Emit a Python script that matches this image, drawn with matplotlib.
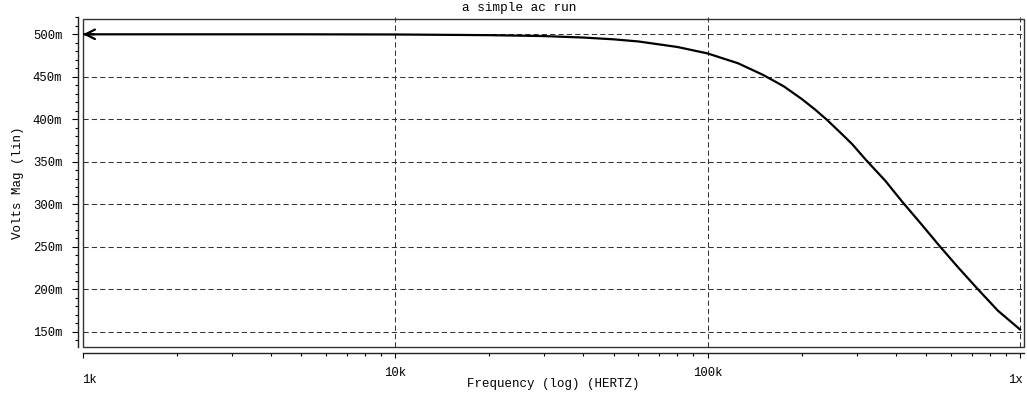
#!/usr/bin/env python3

"""Recreate the 'a simple ac run' magnitude plot (PSpice style)."""

import numpy as np
import matplotlib
matplotlib.use('Agg')
import matplotlib.pyplot as plt
import matplotlib.patches as mpatches
from matplotlib.ticker import FixedLocator, NullFormatter
from matplotlib.transforms import ScaledTranslation

# DATA
freq_hz = [1e3, 5e3, 10e3, 20e3, 30e3, 40e3, 50e3, 60e3, 80e3, 100e3, 125e3,
           150e3, 175e3, 200e3, 220e3, 240e3, 265e3, 290e3, 320e3, 370e3,
           420e3, 480e3, 550e3, 630e3, 730e3, 850e3, 1e6]
volts_mag = [0.500, 0.500, 0.4998, 0.4990, 0.4979, 0.4962, 0.4941, 0.4916,
             0.4851, 0.4775, 0.4660, 0.4525, 0.4390, 0.4240, 0.4120, 0.4000,
             0.3850, 0.3710, 0.3530, 0.3280, 0.3030, 0.2780, 0.2520, 0.2270,
             0.2010, 0.1750, 0.1530]

x_ticks = [1e3, 1e4, 1e5, 1e6]
x_tick_labels = ['1k', '10k', '100k', '1x']
y_ticks = [0.150, 0.200, 0.250, 0.300, 0.350, 0.400, 0.450, 0.500]
y_tick_labels = ['150m', '200m', '250m', '300m', '350m', '400m', '450m', '500m']
y_minor = [v / 1000 for v in range(140, 521, 10)]

title = 'a simple ac run'
xlabel = 'Frequency (log) (HERTZ)'
ylabel = 'Volts Mag (lin)'

font = 'Liberation Mono'
W, H = 1027, 394
dpi = 100

fig = plt.figure(figsize=(W / dpi, H / dpi), dpi=dpi)
# axes box in pixels: left 83, right 1024, top 17.3, bottom 347.3
ax = fig.add_axes([83 / W, (H - 347.3) / H, (1024 - 83) / W, (347.3 - 17.3) / H])

x_max = 10 ** (6 + 4 / 312.3)
ax.set_xscale('log')
ax.set_xlim(1e3, x_max)
ax.set_ylim(0.132, 0.520)

# grid
grid_kw = dict(color='#333333', linewidth=0.75, dashes=(5, 3), zorder=1)
for yv in y_ticks:
    ax.axhline(yv, **grid_kw)
for xv in x_ticks[1:]:
    ax.axvline(xv, **grid_kw)

# curve
ax.plot(freq_hz, volts_mag, color='black', linewidth=1.6, zorder=3,
        solid_joinstyle='round')
ax.annotate('', xy=(freq_hz[0], volts_mag[0]), xytext=(freq_hz[0] * 1.08, volts_mag[0]),
            arrowprops=dict(arrowstyle='->', color='black', lw=1.6,
                            mutation_scale=17, shrinkA=0, shrinkB=0), zorder=4)

# plot frame (separate from the axis lines)
frame = mpatches.Rectangle((1e3, 0.132), x_max - 1e3, 0.5176 - 0.132,
                           transform=ax.transData, fill=False,
                           edgecolor='#333333', linewidth=1.0, clip_on=False, zorder=2)
ax.add_patch(frame)

# axis lines offset from frame
for side in ['top', 'right']:
    ax.spines[side].set_visible(False)
ax.spines['left'].set_position(('outward', 3.6))
ax.spines['bottom'].set_position(('outward', 4.3))
for side in ['left', 'bottom']:
    ax.spines[side].set_linewidth(1.0)
    ax.spines[side].set_color('#222222')

ax.yaxis.set_major_locator(FixedLocator(y_ticks))
ax.yaxis.set_minor_locator(FixedLocator(y_minor))
ax.yaxis.set_minor_formatter(NullFormatter())
ax.set_yticklabels(y_tick_labels)
ax.tick_params(axis='y', which='major', direction='out', length=4.3, width=0.8,
               pad=7, labelsize=8.8)
ax.tick_params(axis='y', which='minor', direction='out', length=2.2, width=0.8)

ax.set_xticks(x_ticks)
ax.set_xticklabels(x_tick_labels)
ax.xaxis.set_minor_formatter(NullFormatter())
ax.tick_params(axis='x', which='major', direction='out', length=3.6, width=0.8,
               pad=6, labelsize=8.8)
ax.tick_params(axis='x', which='minor', direction='out', length=1.8, width=0.8)

for lab in ax.get_xticklabels() + ax.get_yticklabels():
    lab.set_family(font)

# end labels sit a bit lower, flush with the box edges
xlabs = ax.get_xticklabels()
xlabs[0].set_ha('left')
xlabs[-1].set_ha('right')
for lab, dx in [(xlabs[0], -1), (xlabs[-1], 3)]:
    lab.set_transform(lab.get_transform() + ScaledTranslation(dx / dpi, -7 / dpi, fig.dpi_scale_trans))

ax.set_xlabel(xlabel, family=font, fontsize=9, va='center')
ax.xaxis.set_label_coords(0.5, (347.3 - 384) / 330)
ax.set_ylabel(ylabel, family=font, fontsize=9, va='center')
ax.yaxis.set_label_coords((18 - 83) / 941, 0.5)

fig.text(519 / W, 1 - 8 / H, title, family=font, fontsize=9.2, ha='center', va='center')

fig.savefig('out.png', dpi=dpi)
